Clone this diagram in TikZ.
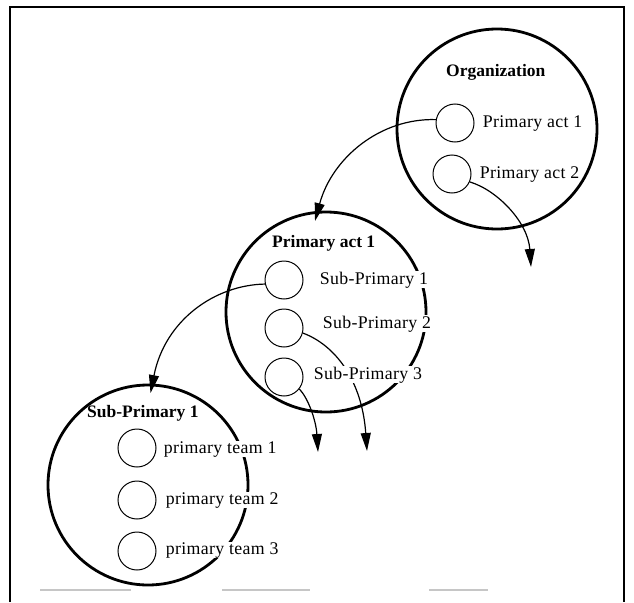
\documentclass[tikz,border=0pt]{standalone}
\usepackage{fontspec}
\setmainfont{Liberation Serif}
\newfontfamily\lblfont[LetterSpace=2]{Liberation Serif}
\usetikzlibrary{arrows.meta}
\tikzset{
  bigc/.style={circle, draw, line width=2.8pt, minimum size=200pt, inner sep=0pt},
  smallc/.style={circle, draw, line width=1pt, minimum size=38pt, inner sep=0pt},
  conn/.style={line width=1.2pt, -{Triangle[length=18pt,width=10pt]}},
  lbl/.style={font=\fontsize{17.8}{20}\lblfont, fill=white, inner sep=0.6pt, anchor=base west},
  ttl/.style={font=\fontsize{17.5}{20}\selectfont\bfseries, inner sep=0pt, anchor=base west},
}
\begin{document}
\begin{tikzpicture}[x=1pt,y=-1pt]
\useasboundingbox (0,0) rectangle (634,602);
% frame
\draw[line width=2.5pt] (10,602) -- (10,7) -- (624,7) -- (624,602);
\draw[gray!45, line width=1.5pt] (40,590) -- (131,590) (222,590) -- (310,590) (429,590) -- (488,590);
% big circles
\node[bigc] (org) at (497,129) {};
\node[bigc] (pa) at (326,312) {};
\node[bigc] (sp) at (148,485) {};
% small circles
\node[smallc] (o1) at (455,123) {};
\node[smallc] (o2) at (452,174) {};
\node[smallc] (p1) at (284,280) {};
\node[smallc] (p2) at (284,328) {};
\node[smallc] (p3) at (284,377) {};
\node[smallc] (t1) at (137,448) {};
\node[smallc] (t2) at (137,500) {};
\node[smallc] (t3) at (137,551) {};
% arrow ends
\coordinate (e1) at (315,221);
\coordinate (e2) at (531,267);
\coordinate (e3) at (150.5,393);
\coordinate (e4) at (367,451);
\coordinate (e5) at (318,452);
% connectors
\draw[conn] (o1.170) .. controls (380,118) and (332,158) .. (e1);
\draw[conn] (o2.-24) .. controls (497,190) and (528,222) .. (e2);
\draw[conn] (p1.192) .. controls (215,285) and (165,320) .. (e3);
\draw[conn] (p2.-15) .. controls (335,345) and (362,380) .. (e4);
\draw[conn] (p3.-38) .. controls (308,398) and (316,420) .. (e5);
% titles
\node[ttl] (torg) at (446,76) {Organization};
\node[ttl] (tpa) at (272,247) {Primary act 1};
\node[ttl] (tsp) at (87,417) {Sub-Primary 1};
% labels
\node[lbl] (lo1) at (482,127) {Primary act 1};
\node[lbl] (lo2) at (479,178) {Primary act 2};
\node[lbl] (lp1) at (319,284) {Sub-Primary 1};
\node[lbl] (lp2) at (322,328) {Sub-Primary 2};
\node[lbl] (lp3) at (313,379) {Sub-Primary 3};
\node[lbl] (lt1) at (163,453) {primary team 1};
\node[lbl] (lt2) at (165,504) {primary team 2};
\node[lbl] (lt3) at (165,554) {primary team 3};
\end{tikzpicture}
\end{document}
